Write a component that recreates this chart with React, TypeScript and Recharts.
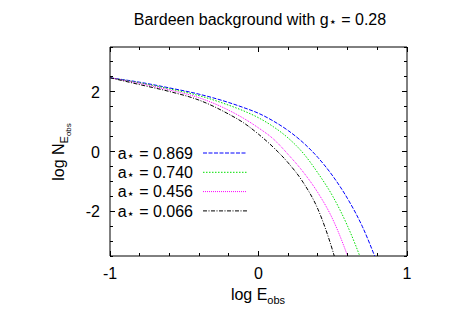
import { LineChart, Line, XAxis, YAxis, ReferenceArea } from 'recharts';

// log E_obs sample points
const logE = [-1, -0.8, -0.6, -0.4, -0.2, -0.1, 0, 0.1, 0.2, 0.3, 0.4, 0.5, 0.6, 0.7, 0.8];

// log N_Eobs for each spin a*
const spin0869 = [2.47, 2.32, 2.13, 1.92, 1.64, 1.47, 1.28, 1.02, 0.7, 0.3, -0.2, -0.82, -1.58, -2.52, -3.73];
const spin0740 = [2.47, 2.3, 2.1, 1.87, 1.55, 1.36, 1.13, 0.83, 0.45, -0.05, -0.72, -1.5, -2.5, -3.75, -5.3];
const spin0456 = [2.47, 2.28, 2.06, 1.8, 1.38, 1.11, 0.79, 0.42, -0.1, -0.68, -1.38, -2.27, -3.5, -5.0, null];
const spin0066 = [2.47, 2.24, 2.01, 1.72, 1.25, 0.96, 0.58, 0.14, -0.38, -1.03, -1.93, -3.33, -5.2, null, null];

const spinLabels = ['0.869', '0.740', '0.456', '0.066'];

const xTicks = [-1, -0.8, -0.6, -0.4, -0.2, 0, 0.2, 0.4, 0.6, 0.8, 1];
const xMajor = [-1, 0, 1];
const yTicks = [-3.5, -3, -2.5, -2, -1.5, -1, -0.5, 0, 0.5, 1, 1.5, 2, 2.5, 3, 3.5];
const yMajor = [-2, 0, 2];

const rows = logE.map((x, i) => ({
  x,
  s0869: spin0869[i],
  s0740: spin0740[i],
  s0456: spin0456[i],
  s0066: spin0066[i]
}));

const series = [
  { key: 's0869', color: '#0000ff', dash: '4 1.5' },
  { key: 's0740', color: '#00e000', dash: '1.5 1.5' },
  { key: 's0456', color: '#ff00ff', dash: '1 1' },
  { key: 's0066', color: '#000000', dash: '4 1.5 1 1.5' }
];

const W = 463;
const H = 324;
const PLOT_TOP = 47;
const PLOT_BOTTOM = 256;
const PLOT_LEFT = 110;
const PLOT_RIGHT = 407;
const FONT = "'Liberation Sans', Arial, Helvetica, sans-serif";

const XTick = (props: any) => {
  const { x, payload } = props;
  const v = payload.value;
  const major = xMajor.includes(v);
  const len = major ? 5 : 3;
  return (
    <g>
      <line x1={x} x2={x} y1={PLOT_BOTTOM} y2={PLOT_BOTTOM - len} stroke="#000" shapeRendering="crispEdges" />
      <line x1={x} x2={x} y1={PLOT_TOP} y2={PLOT_TOP + len} stroke="#000" shapeRendering="crispEdges" />
      {major && (
        <text x={x} y={PLOT_BOTTOM + 22.5} textAnchor="middle" fontSize={16} fontFamily={FONT} fill="#000">
          {String(v)}
        </text>
      )}
    </g>
  );
};

const YTick = (props: any) => {
  const { y, payload } = props;
  const v = payload.value;
  const major = yMajor.includes(v);
  const len = major ? 5 : 3;
  return (
    <g>
      <line x1={PLOT_LEFT} x2={PLOT_LEFT + len} y1={y} y2={y} stroke="#000" shapeRendering="crispEdges" />
      <line x1={PLOT_RIGHT} x2={PLOT_RIGHT - len} y1={y} y2={y} stroke="#000" shapeRendering="crispEdges" />
      {major && (
        <text x={100} y={y + 6} textAnchor="end" fontSize={16} fontFamily={FONT} fill="#000">
          {String(v)}
        </text>
      )}
    </g>
  );
};

const Star = () => (
  <tspan fontSize={13} fontFamily="'DejaVu Sans', sans-serif" dy={1}>⋆</tspan>
);

export default function App() {
  return (
    <div style={{ position: 'absolute', left: 0, top: 0, width: W, height: H, background: '#fff' }}>
      <LineChart width={W} height={H} data={rows} margin={{ top: PLOT_TOP, right: W - PLOT_RIGHT, bottom: 0, left: 0 }}>
        <XAxis
          dataKey="x"
          type="number"
          domain={[-1, 1]}
          ticks={xTicks}
          interval={0}
          allowDataOverflow
          height={H - PLOT_BOTTOM}
          axisLine={false}
          tickLine={false}
          tickSize={0}
          tick={<XTick />}
        />
        <YAxis
          type="number"
          domain={[-3.5, 3.5]}
          ticks={yTicks}
          interval={0}
          allowDataOverflow
          width={PLOT_LEFT}
          axisLine={false}
          tickLine={false}
          tickSize={0}
          tick={<YTick />}
        />
        <ReferenceArea x1={-1} x2={1} y1={-3.5} y2={3.5} fill="none" stroke="#000" strokeWidth={1} />
        {series.map((s) => (
          <Line
            key={s.key}
            dataKey={s.key}
            type="monotone"
            stroke={s.color}
            strokeWidth={1}
            strokeDasharray={s.dash}
            dot={false}
            activeDot={false}
            isAnimationActive={false}
          />
        ))}
      </LineChart>
      <svg
        width={W}
        height={H}
        style={{ position: 'absolute', left: 0, top: 0, pointerEvents: 'none' }}
        fontFamily={FONT}
      >
        <text x={260} y={25} textAnchor="middle" fontSize={16}>
          Bardeen background with g<Star />
          <tspan dy={-1}> = 0.28</tspan>
        </text>
        <text x={258} y={300} textAnchor="middle" fontSize={16}>
          log E<tspan fontSize={11} dy={4}>obs</tspan>
        </text>
        <text x={64} y={152} textAnchor="middle" fontSize={16} transform="rotate(-90 64 152)">
          log N<tspan fontSize={11} dy={4}>E</tspan>
          <tspan fontSize={8} dy={3}>obs</tspan>
        </text>
        {series.map((s, i) => {
          const cy = 153 + i * 19.3;
          return (
            <g key={s.key}>
              <text x={193} y={cy + 5.8} textAnchor="end" fontSize={16}>
                a<Star />
                <tspan dy={-1}> = {spinLabels[i]}</tspan>
              </text>
              <line x1={203} x2={247} y1={cy} y2={cy} stroke={s.color} strokeWidth={1} strokeDasharray={s.dash} />
            </g>
          );
        })}
      </svg>
    </div>
  );
}
